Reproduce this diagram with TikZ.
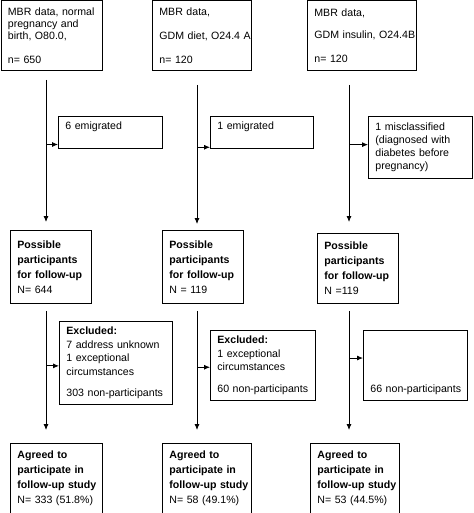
\documentclass[tikz,border=0pt]{standalone}
\usepackage{fontspec}
\setmainfont{Liberation Sans}
\usetikzlibrary{arrows.meta}

\def\fs{10.6}
% no breaks inside a line: long lines may run into the right margin
\def\nobreaks{\hyphenpenalty=10000\exhyphenpenalty=10000}

\begin{document}
\begin{tikzpicture}[
    x=1pt,y=-1pt,
    flow/.style={>={Latex[length=6pt,width=5pt]},->,line width=0.8pt},
    box/.style 2 args={draw,line width=0.8pt,anchor=north west,align=left,
        inner xsep=7pt,inner ysep=0pt,text width=#1,minimum height=#2},
    data/.style 2 args={box={#1}{#2},font=\fontsize{\fs}{12}\selectfont\nobreaks},
    drop/.style 2 args={box={#1}{#2},font=\fontsize{\fs}{13.5}\selectfont\nobreaks},
    group/.style 2 args={box={#1}{#2},font=\fontsize{\fs}{15}\selectfont\nobreaks},
]
\useasboundingbox (0,0) rectangle (473,513);

% Columns of the flow
\coordinate (c1) at (46,0);
\coordinate (c2) at (197,0);
\coordinate (c3) at (349,0);

%% Register data
\node[data={87.5pt}{69.5pt}] (t1) at (0.5,0.5)
    {MBR data, normal\\pregnancy and\\birth, O80.0,\\[12pt]n= 650};
\node[data={85pt}{69.5pt}] (t2) at (152,0.5)
    {MBR data,\\[12pt]GDM~diet,~O24.4~A\\[12pt]n= 120};
\node[data={95pt}{69.5pt}] (t3) at (307,0.5)
    {MBR data,\\[10pt]GDM~insulin,~O24.4B\\[12pt]n= 120};

% First drop-outs
\node[drop={90pt}{32pt}] (e1) at (58,116) {6 emigrated\\\mbox{}};
\node[drop={89pt}{32pt}] (e2) at (210,116) {1 emigrated\\\mbox{}};
\node[drop={90pt}{62pt},font=\fontsize{\fs}{13}\selectfont\nobreaks] (e3) at (368,116)
    {1 misclassified\\(diagnosed with\\diabetes before\\pregnancy)};

%% Possible participants
\node[group={67pt}{73pt}] (p1) at (10,230)
    {\textbf{Possible}\\\textbf{participants}\\\textbf{for follow-up}\\N= 644};
\node[group={67pt}{73pt}] (p2) at (162,230)
    {\textbf{Possible}\\\textbf{participants}\\\textbf{for follow-up}\\N = 119};
\node[group={67pt}{70pt}] (p3) at (317,233)
    {\textbf{Possible}\\\textbf{participants}\\\textbf{for follow-up}\\N =119};

% Excluded
\node[drop={99pt}{83pt}] (x1) at (59,321)
    {\textbf{Excluded:}\\7 address unknown\\1 exceptional\\circumstances\\[8pt]303~non-participants};
\node[drop={91pt}{70pt}] (x2) at (210,330)
    {\textbf{Excluded:}\\1 exceptional\\circumstances\\[8pt]60~non-participants};
\node[drop={90pt}{70pt}] (x3) at (363,330)
    {\vphantom{E}\\[35pt]66~non-participants};

%% Agreed to participate
\node[group={78pt}{69.5pt}] (a1) at (10,443)
    {\textbf{Agreed to}\\\textbf{participate in}\\\textbf{follow-up~study}\\N= 333 (51.8\%)};
\node[group={75pt}{69.5pt}] (a2) at (162,443)
    {\textbf{Agreed to}\\\textbf{participate in}\\\textbf{follow-up~study}\\N= 58 (49.1\%)};
\node[group={75pt}{69.5pt}] (a3) at (310,443)
    {\textbf{Agreed to}\\\textbf{participate in}\\\textbf{follow-up~study}\\N= 53 (44.5\%)};

% Main arrows, they stop short of the boxes
\draw[flow,shorten <=9pt,shorten >=8pt] (t1.south -| c1) -- (p1.north -| c1);
\draw[flow,shorten <=14pt,shorten >=6pt] (t2.south -| c2) -- (p2.north -| c2);
\draw[flow,shorten <=14pt,shorten >=11pt] (t3.south -| c3) -- (p3.north -| c3);
\foreach \i in {1,2,3}
    \draw[flow,shorten <=7pt,shorten >=13pt] (p\i.south -| c\i) -- (a\i.north -| c\i);

% Side arrows
\draw[flow] (c1 |- e1.193) -- (e1.193);
\draw[flow] (c2 |- e2.196) -- (e2.196);
\draw[flow] (c3 |- e3.177) -- (e3.177);
\draw[flow] (c1 |- x1.183) -- (x1.183);
\draw[flow] (c2 |- x2.182) -- (x2.182);
\draw[flow] (c3 |- x3.172) -- (x3.172);

\end{tikzpicture}
\end{document}
